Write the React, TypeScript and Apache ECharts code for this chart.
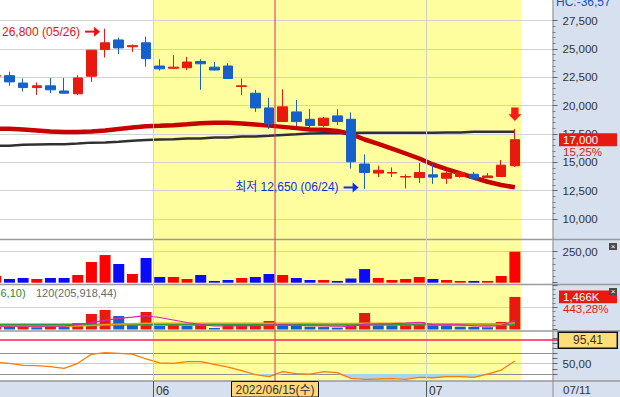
import React, { useEffect, useRef } from 'react';
import * as echarts from 'echarts';

// ---------------- data ----------------
const dates = ['05/16','05/17','05/18','05/19','05/20','05/23','05/24','05/25','05/26','05/27','05/30','05/31',
  '06/02','06/03','06/07','06/08','06/09','06/10','06/13','06/14','06/15','06/16','06/17','06/20','06/21','06/22','06/23','06/24','06/27','06/28','06/29','06/30',
  '07/01','07/04','07/05','07/06','07/07','07/08','07/11'];
const opens = [22600,22650,22000,21600,21750,21300,21050,22600,24950,25800,25200,25550,23500,23300,23350,23900,23400,23500,21700,21100,19800,18600,19450,18800,18250,19100,18800,14850,14050,14050,13700,13650,13900,13600,13750,13950,13650,13750,14700];
const closes = [22650,22100,21600,21750,21400,21100,22450,24900,25550,25100,25300,24150,23250,23400,23850,23700,23150,22400,21750,19800,18400,19900,18600,18250,18900,18600,15050,14100,14300,14100,13750,14100,13700,14050,14100,13600,13800,14750,17000];
const lows = [22550,21750,21250,20950,21100,21100,20950,22100,24250,24550,24750,23450,23100,23250,23150,21400,23100,22400,20950,19450,17950,18600,18200,18000,18150,18300,14450,12650,13700,13700,12700,13200,13100,13100,13650,13450,13650,13750,14600];
const highs = [22700,23000,22400,22050,22450,22450,22700,24900,26800,26000,25400,26100,24100,24450,24300,24100,23850,23750,22400,21400,20700,21450,20500,19700,19000,19700,19400,15700,14700,14550,13950,14950,14850,14250,14250,14150,14050,15200,17950];
const priceLineRed = [17970,17970,17900,17810,17720,17680,17680,17720,17810,17940,18070,18190,18230,18280,18365,18455,18500,18500,18430,18340,18240,18130,18020,17900,17870,17765,17500,17015,16635,16220,15780,15340,14810,14410,14030,13645,13290,13000,12800];
const priceLineBlack = [16470,16470,16560,16580,16590,16600,16660,16740,16760,16820,16910,16970,17010,17030,17100,17110,17190,17200,17280,17290,17350,17420,17470,17540,17560,17565,17580,17610,17615,17615,17620,17620,17620,17625,17630,17700,17700,17705,17710];
const tradeAmount = [54,30,38,30,38,38,62,167,223,151,70,199,46,46,30,62,14,22,38,46,70,62,38,22,22,14,34,110,38,22,30,46,30,22,14,14,14,54,250];
const volumeK = [150,130,145,100,145,110,290,700,880,608,216,788,158,216,158,240,68,203,208,248,383,203,190,125,110,85,200,743,189,185,190,338,185,180,126,115,100,340,1466];
const volMa5 = [155,155,155,155,150,150,225,306,410,505,554,622,540,428,315,225,158,160,165,170,203,205,190,170,160,150,140,240,254,269,291,320,220,215,205,160,150,175,420];
const volMa20 = [150,150,150,150,150,152,160,180,210,240,255,278,280,282,282,283,282,281,280,280,282,280,278,276,274,272,270,282,283,284,282,282,262,256,250,246,243,245,300];
const volMa60 = [226,226,226,225,225,225,225,226,226,226,226,227,227,227,227,227,227,227,227,227,227,226,226,226,225,225,225,225,226,226,226,225,225,225,225,224,224,224,230];
const volMa120 = [204,204,204,204,204,204,205,205,205,205,205,206,206,206,206,206,206,206,206,206,206,206,206,206,206,206,206,207,207,207,207,207,207,207,207,207,207,207,210];
const oscValues = [52.7,50.8,46.9,46.1,44.2,41.1,50.8,68.2,71.3,70.1,68.7,59.1,51.4,50.8,53.9,53.9,48.8,43.6,36.5,28.7,24.9,34.5,30.7,29.7,34.5,32.6,21.8,19.9,20.4,21.0,19.9,23.7,22.9,24.9,24.9,23.7,30.1,37.8,55.2];
const OSC_REF = 95.41;
const OSC_LOW = 30;
const PRICE_MIN = 10000, PRICE_MAX = 27500, PRICE_STEP = 2500;
const HIGH_NOTE = { date: '05/26', price: 26800 };
const LOW_NOTE = { date: '06/24', price: 12650, prefix: '최저 ' };
const HIGHLIGHT_FROM = '06/02';
const CROSS_DATE = '06/15';
const CROSS_LABEL = '2022/06/15(수)';
const LAST_LABEL = '07/11';
const HC_TEXT = 'HC:-36,57';
const VOL_RATIO_TEXT = '443,28%';
const VOL_LEGEND = [{ text: '6,10)', color: '#2a8a3a' }, { text: '120(205,918,44)', color: '#6a6a6a' }];

// ---------------- layout ----------------
const BAND = 13.66;
const N_CAT = 42;
const GRID_LEFT = -4.2 - BAND / 2;
const GRID_W = N_CAT * BAND;
const PLOT_R = 552.5;
const AXIS_OFFSET = PLOT_R - (GRID_LEFT + GRID_W);
const SEPS = [239.5, 284.5, 331, 381];

const UP = '#e8190f', DOWN = '#1560cc';
const AMT_UP = '#ff0000', AMT_DOWN = '#0a0aff';
const PANEL = '#d6e0ee', YELLOW = '#fefe9e';
const GRID_C = '#d2d2d2', DARK_SPLIT = '#8f8f8f', T = 'rgba(0,0,0,0)';
const FF = '"Liberation Sans", "Noto Sans CJK KR", sans-serif';

const categories = dates.concat(Array.from({ length: N_CAT - dates.length }, (_, k) => ' '.repeat(k + 1)));
const boundaryLabels = dates.concat(Array.from({ length: N_CAT + 1 - dates.length }, (_, k) => '~'.repeat(k + 1)));
const monthStarts = dates.map((d, i) => (i > 0 && d.slice(0, 2) !== dates[i - 1].slice(0, 2) ? i : -1)).filter((i) => i >= 0);
const isMonthStart = (idx: number) => monthStarts.indexOf(idx) >= 0;
const dec = (v: number) => v.toFixed(2).replace('.', ',');

function buildOption(): any {
  const gridBase = { left: GRID_LEFT, width: GRID_W, containLabel: false, outerBoundsMode: 'none' };
  const catAxis = (gi: number, show = true) => ({
    type: 'category', gridIndex: gi, data: categories, boundaryGap: true, show,
    axisLine: { show: false }, axisTick: { show: false }, axisLabel: { show: false }, splitLine: { show: false },
  });
  const splitAxis = (gi: number, min: number, max: number, interval: number, colors: string[]) => ({
    type: 'value', gridIndex: gi, min, max, interval, position: 'right', offset: AXIS_OFFSET, z: 0,
    axisLine: { show: false }, axisTick: { show: false }, axisLabel: { show: false },
    splitLine: { show: true, lineStyle: { color: colors, width: 1 } },
  });
  const labelAxis = (gi: number, min: number, max: number, interval: number, fmt: ((v: number) => string) | null, minor: boolean) => ({
    type: 'value', gridIndex: gi, min, max, interval, position: 'right', offset: AXIS_OFFSET, z: 5,
    axisLine: { show: false },
    axisTick: { show: true, length: 5, lineStyle: { color: '#666', width: 1 } },
    minorTick: { show: minor, splitNumber: 5, length: 3, lineStyle: { color: '#808080', width: 1 } },
    axisLabel: fmt ? { show: true, margin: 10, color: '#333', fontSize: 11.5, fontFamily: 'Liberation Sans', formatter: fmt } : { show: false },
    splitLine: { show: false },
  });
  const line = (x: number, y: number, data: number[], color: string, width: number, extra: any = {}) => ({
    type: 'line', xAxisIndex: x, yAxisIndex: y, data, symbol: 'none', silent: true,
    lineStyle: { color, width }, z: 2, ...extra,
  });

  return {
    animation: false,
    grid: [
      { ...gridBase, top: 20.7, height: 198.3 },
      { ...gridBase, top: 220.7, height: 62 },
      { ...gridBase, top: 285.1, height: 44.4 },
      { ...gridBase, top: 337.83, height: 51.75 },
      { ...gridBase, top: 0, height: 381 },
      { ...gridBase, top: 337.83, height: 36.225 },
      { ...gridBase, top: 251.7, height: 31 },
    ],
    xAxis: [
      catAxis(0), catAxis(1), catAxis(2), catAxis(3),
      {
        type: 'category', gridIndex: 4, data: boundaryLabels, boundaryGap: false, position: 'bottom', z: 5,
        axisLine: { show: false },
        axisTick: { show: true, interval: (i: number) => isMonthStart(i), length: 16, inside: false, lineStyle: { color: '#555', width: 1 } },
        axisLabel: {
          show: true, interval: (i: number) => isMonthStart(i), formatter: (v: string) => v.slice(0, 2),
          align: 'left', padding: [0, 0, 0, 3], margin: 4, color: '#333', fontSize: 12, fontFamily: 'Liberation Sans',
        },
        splitLine: { show: true, interval: (i: number) => isMonthStart(i), lineStyle: { color: '#cfcfcf', width: 1 } },
      },
      catAxis(5, false), catAxis(6, false),
    ],
    yAxis: [
      splitAxis(0, PRICE_MIN, PRICE_MAX, PRICE_STEP, [GRID_C]),
      labelAxis(0, PRICE_MIN, PRICE_MAX, PRICE_STEP, (v) => v.toLocaleString('en-US'), true),
      splitAxis(1, 0, 500, 250, [T, GRID_C, T]),
      splitAxis(2, 0, 2000, 1000, [T, GRID_C, T]),
      labelAxis(2, 0, 2000, 1000, null, true),
      splitAxis(3, 0, 100, 10, [T, T, T, DARK_SPLIT, T, '#c8c8c8', T, DARK_SPLIT, T, T, T]),
      { type: 'value', gridIndex: 4, min: 0, max: 1, show: false },
      labelAxis(5, 30, 100, 10, (v) => (v === 50 ? dec(v) : ''), false),
      labelAxis(6, 0, 250, 250, (v) => (v === 250 ? dec(v) : ''), true),
    ],
    series: [
      line(0, 0, priceLineBlack, '#303030', 2.5),
      line(0, 0, priceLineRed, '#c80000', 4.5),
      {
        type: 'candlestick', xAxisIndex: 0, yAxisIndex: 0, silent: true, z: 3, barWidth: 10,
        data: dates.map((_, i) => [opens[i], closes[i], lows[i], highs[i]]),
        itemStyle: { color: UP, color0: DOWN, borderColor: UP, borderColor0: DOWN, borderWidth: 1 },
      },
      {
        type: 'bar', xAxisIndex: 1, yAxisIndex: 2, silent: true, barWidth: 11,
        data: tradeAmount.map((v, i) => ({ value: v, itemStyle: { color: closes[i] >= opens[i] ? AMT_UP : AMT_DOWN } })),
      },
      {
        type: 'bar', xAxisIndex: 2, yAxisIndex: 3, silent: true, barWidth: 11,
        data: volumeK.map((v, i) => ({ value: v, itemStyle: { color: i === 0 || v >= volumeK[i - 1] ? UP : DOWN } })),
      },
      line(2, 3, volMa120, '#8a8a8a', 1),
      line(2, 3, volMa60, '#2f9a3f', 2),
      line(2, 3, volMa20, '#e6a100', 1.5),
      line(2, 3, volMa5, '#e020b8', 1.2),
      line(3, 5, oscValues.map((v) => Math.min(v, OSC_LOW)), T, 0, { stack: 'oscFill' }),
      line(3, 5, oscValues.map((v) => OSC_LOW - Math.min(v, OSC_LOW)), T, 0, {
        stack: 'oscFill', areaStyle: { color: '#a9d3ef', opacity: 1 },
      }),
      line(3, 5, oscValues, '#ff7b00', 1.3, {
        markLine: {
          silent: true, symbol: ['none', 'none'], label: { show: false }, animation: false,
          lineStyle: { color: '#ff1f4f', width: 1.5, type: 'solid' },
          data: [{ yAxis: OSC_REF }],
        },
      }),
    ],
  };
}

function buildGraphics(chart: any): any[] {
  const P = (xi: number, yv: number, xa = 0, ya = 0) => chart.convertToPixel({ xAxisIndex: xa, yAxisIndex: ya }, [xi, yv]) as number[];
  const txt = (text: string, x: number, y: number, fill: string, size: number, align = 'left', z = 8) => ({
    type: 'text', z, silent: true,
    style: { text, x, y, fill, font: `${size}px ${FF}`, textAlign: align, align, textVerticalAlign: 'middle', verticalAlign: 'middle' },
  });
  const rect = (x: number, y: number, w: number, h: number, fill: string, z: number, stroke?: string, lw = 1) => ({
    type: 'rect', z, silent: true, shape: { x, y, width: w, height: h },
    style: stroke ? { fill, stroke, lineWidth: lw } : { fill },
  });
  const seg = (x1: number, y1: number, x2: number, y2: number, stroke: string, lw: number, z: number) => ({
    type: 'line', z, silent: true, shape: { x1, y1, x2, y2 }, style: { stroke, lineWidth: lw },
  });
  const els: any[] = [];

  // highlighted period background
  const hi = dates.indexOf(HIGHLIGHT_FROM);
  const xa = P(hi, PRICE_MIN)[0] - BAND / 2;
  const xb = P(dates.length - 1, PRICE_MIN)[0] + BAND / 2;
  els.push(rect(xa, 0, xb - xa, SEPS[3], YELLOW, -1));

  // right panel & bottom axis row
  els.push(rect(PLOT_R, 0, 620 - PLOT_R, 397, PANEL, 3));
  els.push(rect(0, SEPS[3], 620, 397 - SEPS[3], PANEL, 3));
  SEPS.forEach((y) => els.push(seg(0, y, 620, y, '#9a9a9a', 1.5, 4)));
  els.push(seg(PLOT_R + 0.5, 0, PLOT_R + 0.5, 397, '#8c8c8c', 1, 4));

  // crosshair + date box
  const cx = P(dates.indexOf(CROSS_DATE), PRICE_MIN)[0] + 6;
  els.push(seg(cx, 0, cx, SEPS[3], '#e0305a', 1, 6));
  els.push(rect(cx - 43.5, SEPS[3] + 0.5, 87, 15.5, '#ffd77a', 7, '#111', 1));
  els.push(txt(CROSS_LABEL, cx, 389.5, '#333', 12, 'center', 8));
  els.push(txt(LAST_LABEL, 563, 389.5, '#333', 11.5, 'left', 8));
  els.push(txt(HC_TEXT, 556, 2, '#2050c8', 12, 'left', 8));

  // high / low notes
  const hp = P(dates.indexOf(HIGH_NOTE.date), HIGH_NOTE.price);
  const ht = [hp[0] - 5, hp[1] + 3];
  const lp = P(dates.indexOf(LOW_NOTE.date), LOW_NOTE.price);
  const lt = [lp[0] - 6, lp[1] - 1.5];
  const arrowRight = (t: number[], color: string) => {
    els.push(rect(t[0] - 15, t[1] - 1, 10, 2, color, 9));
    els.push({ type: 'polygon', z: 9, silent: true, shape: { points: [[t[0] - 6, t[1] - 5], [t[0], t[1]], [t[0] - 6, t[1] + 5]] }, style: { fill: color } });
  };
  arrowRight(ht, '#ee1010');
  arrowRight(lt, '#1030e0');
  els.push(txt(`${HIGH_NOTE.price.toLocaleString('en-US')} (${HIGH_NOTE.date})`, ht[0] - 20, ht[1], '#ee1010', 12, 'right', 9));
  els.push(txt(`${LOW_NOTE.prefix}${LOW_NOTE.price.toLocaleString('en-US')} (${LOW_NOTE.date})`, lt[0] - 20, lt[1], '#1030e0', 12, 'right', 9));

  // down arrow above last candle
  const last = dates.length - 1;
  const dp = P(last, highs[last]);
  const tx = dp[0], ty = dp[1] - 8;
  els.push({
    type: 'polygon', z: 9, silent: true,
    shape: { points: [[tx - 3.7, ty - 13.3], [tx + 3.7, ty - 13.3], [tx + 3.7, ty - 6.7], [tx + 6.5, ty - 6.7], [tx, ty], [tx - 6.5, ty - 6.7], [tx - 3.7, ty - 6.7]] },
    style: { fill: '#ff1a1a' },
  });

  // price box
  const pp = P(last, closes[last]);
  const chg = ((closes[last] / closes[last - 1] - 1) * 100).toFixed(2).replace('.', ',') + '%';
  els.push(rect(559, pp[1] + 6.5, 58, 11.5, PANEL, 8));
  els.push(rect(559, pp[1] - 6.5, 58, 13, UP, 8));
  els.push(txt(closes[last].toLocaleString('en-US'), 563, pp[1], '#fff', 11.5, 'left', 9));
  els.push(txt(chg, 563, pp[1] + 12, '#e8190f', 11.5, 'left', 9));

  // volume box
  const vp = P(last, volumeK[last], 2, 3);
  els.push(rect(559, vp[1] + 6.2, 58, 11.5, PANEL, 8));
  els.push(rect(559, vp[1] - 6.5, 58, 12.7, UP, 8));
  els.push(txt(volumeK[last].toLocaleString('en-US') + 'K', 563, vp[1], '#fff', 11.5, 'left', 9));
  els.push(txt(VOL_RATIO_TEXT, 563, vp[1] + 11.8, '#e8190f', 11.5, 'left', 9));

  // oscillator box
  const op = P(0, OSC_REF, 3, 5);
  els.push(rect(558.3, op[1] - 8, 59, 16, '#ffdd77', 8, '#111', 1.5));
  els.push(txt(dec(OSC_REF), 588, op[1], '#333', 12, 'center', 9));

  // close icons
  [243, 288].forEach((y) => {
    els.push(rect(609, y, 8, 7, '#4a4a4a', 10));
    els.push(txt('×', 613, y + 3.5, '#fff', 8, 'center', 11));
  });

  // volume legend
  let lx = 0.5;
  VOL_LEGEND.forEach((p, i) => {
    els.push(txt(p.text, lx, 293, p.color, 11, 'left', 9));
    lx = i === 0 ? 36 : lx + 100;
  });

  return els;
}

export default function App() {
  const ref = useRef<HTMLDivElement>(null);
  useEffect(() => {
    const el = ref.current;
    if (!el) return;
    const chart = echarts.init(el, null, { renderer: 'svg' });
    chart.setOption(buildOption());
    chart.setOption({ graphic: { elements: buildGraphics(chart) } });
    return () => chart.dispose();
  }, []);
  return <div ref={ref} style={{ position: 'fixed', left: 0, top: 0, width: 620, height: 397, background: '#fff' }} />;
}
